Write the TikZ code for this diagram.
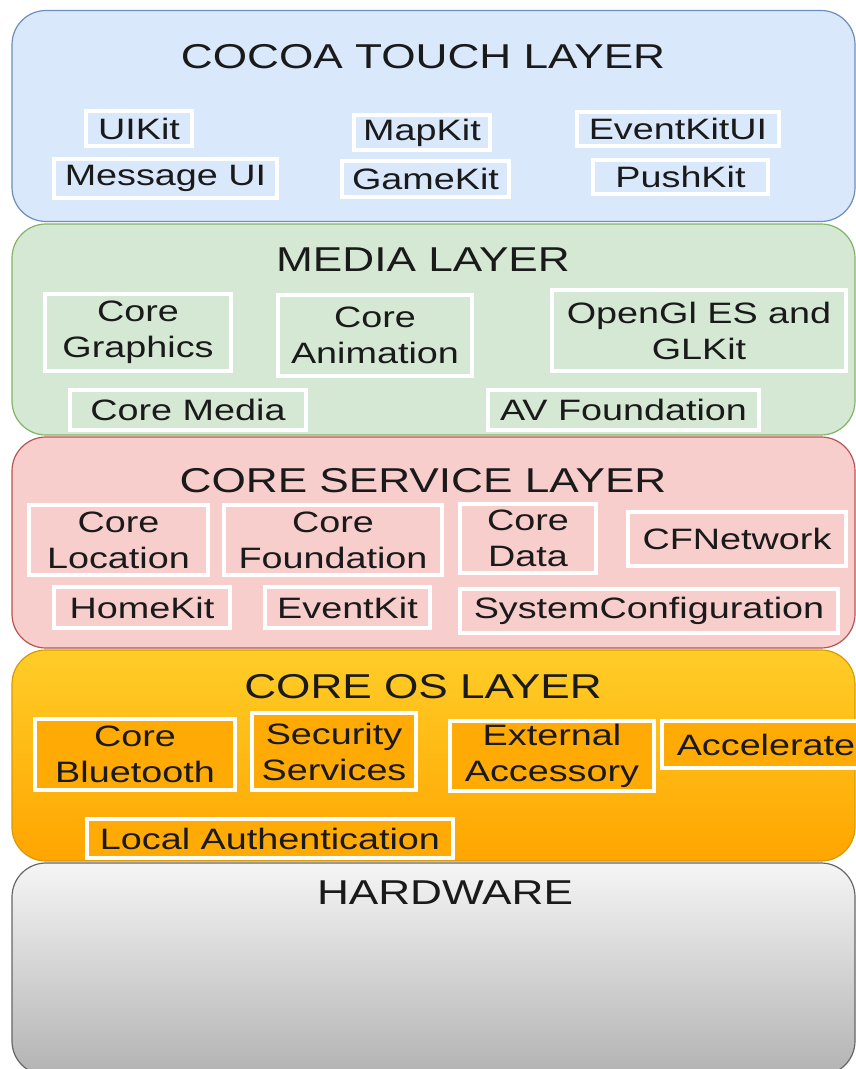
\documentclass[tikz,border=0pt]{standalone}
\usepackage{fontspec}
\setmainfont[FakeStretch=1.28]{Liberation Sans}
\usepackage{tikz}
\usetikzlibrary{positioning}
\usepackage{xcolor}
\definecolor{cocoafill}{HTML}{DAE8FC}
\definecolor{cocoaline}{HTML}{6C8EBF}
\definecolor{mediafill}{HTML}{D5E8D4}
\definecolor{medialine}{HTML}{82B366}
\definecolor{servfill}{HTML}{F8CECC}
\definecolor{servline}{HTML}{B85450}
\definecolor{ostop}{HTML}{FFCD28}
\definecolor{osbottom}{HTML}{FFA500}
\definecolor{osline}{HTML}{D79B00}
\definecolor{oskit}{HTML}{FFAA05}
\definecolor{hwtop}{HTML}{F5F5F5}
\definecolor{hwbottom}{HTML}{B3B3B3}
\definecolor{hwline}{HTML}{666666}
\definecolor{labeltext}{HTML}{1A1A1A}
\newcommand{\ttlfont}{\fontsize{34.5}{40}\selectfont}
\newcommand{\kitfont}{\fontsize{29.5}{36}\selectfont}

\begin{document}
\begin{tikzpicture}[
            x=1pt, y=-1pt,
            layer/.style={
                rectangle,
                rounded corners=34pt,
                draw=#1,
                line width=1.2pt,
                minimum width=843pt,
                minimum height=211pt
            },
            kit/.style={
                rectangle,
                draw=white,
                fill=#1,
                line width=4pt,
                inner sep=0pt,
                align=center,
                text=labeltext,
                font=\kitfont
            },
            title/.style={font=\ttlfont, text=labeltext, inner sep=0pt}
        ]

            \useasboundingbox (0,0) rectangle (856,1069);
            \clip (0,0) rectangle (856,1069);

            % Layers
            \node[layer=cocoaline, fill=cocoafill] (cocoa) at (433.5,116) {};
            \node[layer=medialine, fill=mediafill] (media) at (433.5,329.5) {};
            \node[layer=servline, fill=servfill] (service) at (433.5,542.5) {};
            \node[layer=osline, top color=ostop, bottom color=osbottom] (coreos) at (433.5,755.5) {};
            \node[layer=hwline, top color=hwtop, bottom color=hwbottom, minimum height=212pt] (hardware) at (433.5,969) {};

            % Titles
            \node[title] (cocoatitle) at (423,57) {COCOA TOUCH LAYER};
            \node[title] (mediatitle) at (423,260) {MEDIA LAYER};
            \node[title] (servicetitle) at (423,481) {CORE SERVICE LAYER};
            \node[title] (coreostitle) at (423,687) {CORE OS LAYER};
            \node[title] (hardwaretitle) at (445,893) {HARDWARE};

            % Cocoa Touch frameworks
            \node[kit=cocoafill, minimum width=106pt, minimum height=35pt] (uikit) at (139,128.5) {UIKit};
            \node[kit=cocoafill, minimum width=223pt, minimum height=39pt] (messageui) at (165.5,178.5) {Message UI};
            \node[kit=cocoafill, minimum width=136pt, minimum height=35pt] (mapkit) at (422,132.5) {MapKit};
            \node[kit=cocoafill, minimum width=167pt, minimum height=36pt] (gamekit) at (425.5,179) {GameKit};
            \node[kit=cocoafill, minimum width=202pt, minimum height=34pt] (eventkitui) at (678,129) {EventKitUI};
            \node[kit=cocoafill, minimum width=175pt, minimum height=34pt] (pushkit) at (680.5,177) {PushKit};

            % Media frameworks
            \node[kit=mediafill, minimum width=186pt, minimum height=77pt] (coregraphics) at (138,332.5) {Core\\Graphics};
            \node[kit=mediafill, minimum width=194pt, minimum height=81pt] (coreanimation) at (375,335.5) {Core\\Animation};
            \node[kit=mediafill, minimum width=294pt, minimum height=81pt] (opengl) at (699,330.5) {OpenGl ES and\\GLKit};
            \node[kit=mediafill, minimum width=236pt, minimum height=40pt] (coremedia) at (188,410) {Core Media};
            \node[kit=mediafill, minimum width=271pt, minimum height=40pt] (avfoundation) at (623.5,410) {AV Foundation};

            % Core Service frameworks
            \node[kit=servfill, minimum width=179pt, minimum height=70pt] (corelocation) at (118.5,540) {Core\\Location};
            \node[kit=servfill, minimum width=218pt, minimum height=70pt] (corefoundation) at (333,540) {Core\\Foundation};
            \node[kit=servfill, minimum width=136pt, minimum height=69pt] (coredata) at (528,538.5) {Core\\Data};
            \node[kit=servfill, minimum width=218pt, minimum height=54pt] (cfnetwork) at (737,539) {CFNetwork};
            \node[kit=servfill, minimum width=176pt, minimum height=41pt] (homekit) at (142,607.5) {HomeKit};
            \node[kit=servfill, minimum width=165pt, minimum height=41pt] (eventkit) at (347.5,607.5) {EventKit};
            \node[kit=servfill, minimum width=378pt, minimum height=44pt] (sysconfig) at (649,611) {SystemConfiguration};

            % Core OS frameworks
            \node[kit=oskit, minimum width=200pt, minimum height=71pt] (bluetooth) at (135,754.5) {Core\\Bluetooth};
            \node[kit=oskit, minimum width=164pt, minimum height=77pt] (security) at (334,751.5) {Security\\Services};
            \node[kit=oskit, minimum width=204pt, minimum height=70pt] (accessory) at (552,756) {External\\Accessory};
            \node[kit=oskit, minimum width=208pt, minimum height=47pt] (accelerate) at (766,744.5) {Accelerate};
            \node[kit=oskit, minimum width=366pt, minimum height=39pt] (localauth) at (270,838.5) {Local Authentication};
        \end{tikzpicture}
\end{document}
